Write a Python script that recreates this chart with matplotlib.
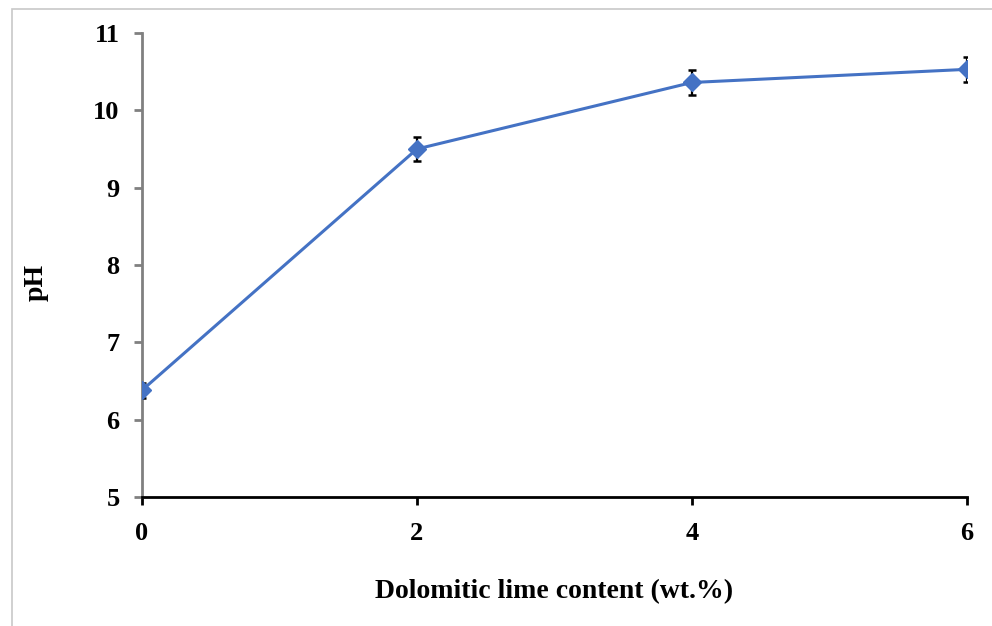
import matplotlib
matplotlib.use("Agg")
import matplotlib.pyplot as plt
import matplotlib.patches as mpatches

# данные
lime_content = [0, 2, 4, 6]
ph_values = [6.38, 9.50, 10.36, 10.53]
ph_errors = [0.10, 0.155, 0.16, 0.165]
x_ticks = [0, 2, 4, 6]
y_ticks = [5, 6, 7, 8, 9, 10, 11]

plt.rcParams["font.family"] = ["Liberation Serif", "DejaVu Serif"]
plt.rcParams["font.weight"] = "bold"

fig = plt.figure(figsize=(9.92, 6.26), dpi=100)
ax = fig.add_axes([0.1431, 0.2061, 0.8317, 0.7412])

# серая рамка вокруг рисунка (видны только левая и верхняя стороны)
frame = mpatches.Rectangle((12 / 992, -0.1), 1.2, 1.1 - 9 / 626,
                           transform=fig.transFigure, fill=False,
                           edgecolor="#c8c8c8", linewidth=1.2)
fig.add_artist(frame)

ax.errorbar(lime_content, ph_values, yerr=ph_errors, color="#4472c4",
            linewidth=2.2, marker="D", markersize=9, ecolor="black",
            elinewidth=1.6, capsize=3, capthick=1.8, zorder=3)

ax.set_xlim(0, 6)
ax.set_ylim(5, 11)
ax.set_xticks(x_ticks)
ax.set_yticks(y_ticks)

ax.spines["top"].set_visible(False)
ax.spines["right"].set_visible(False)
ax.spines["left"].set_color("#808080")
ax.spines["left"].set_linewidth(2)
ax.spines["bottom"].set_color("black")
ax.spines["bottom"].set_linewidth(2)

ax.tick_params(axis="y", colors="#808080", length=6, width=2, labelcolor="black",
               labelsize=19, pad=10)
ax.tick_params(axis="x", colors="black", length=6, width=2, labelsize=19, pad=12)

ax.set_xlabel("Dolomitic lime content (wt.%)", fontsize=20, fontweight="bold")
ax.set_ylabel("pH", fontsize=20, fontweight="bold")
ax.xaxis.set_label_coords(0.5, -0.178)
ax.yaxis.set_label_coords(-0.113, 0.463)

fig.savefig("out.png", dpi=100)
